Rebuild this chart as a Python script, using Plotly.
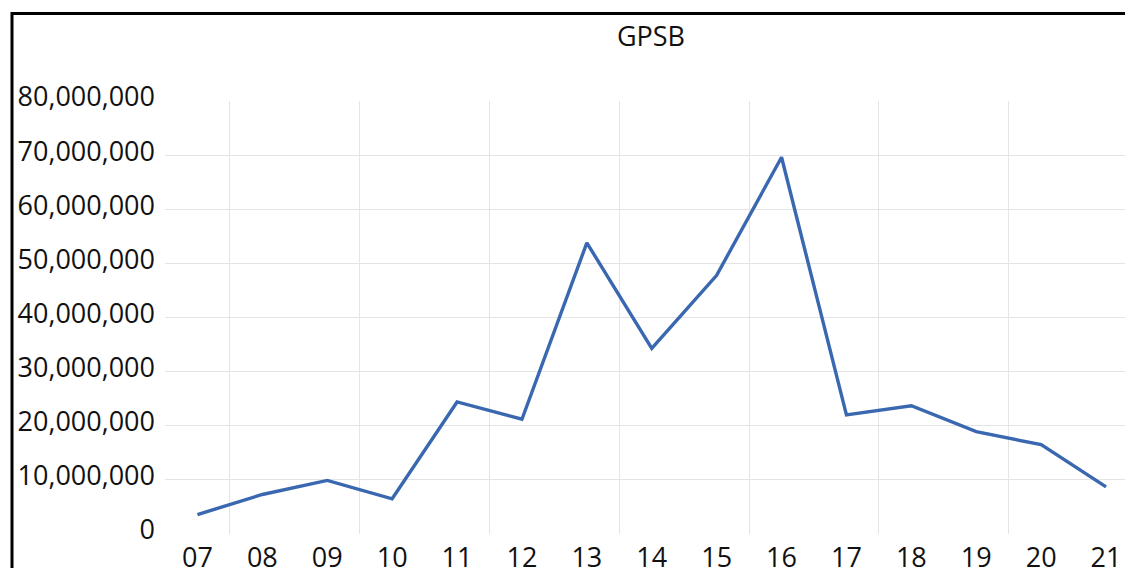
import plotly.graph_objects as go

categories = ["07", "08", "09", "10", "11", "12", "13", "14", "15", "16", "17", "18", "19", "20", "21"]
values = [3600000, 7300000, 9900000, 6500000, 24400000, 21200000, 53800000, 34300000,
          47800000, 69600000, 22000000, 23700000, 18900000, 16500000, 8700000]
y_ticks = [0, 10000000, 20000000, 30000000, 40000000, 50000000, 60000000, 70000000, 80000000]
y_ticktext = ["0", "10,000,000", "20,000,000", "30,000,000", "40,000,000",
              "50,000,000", "60,000,000", "70,000,000", "80,000,000"]
title = "GPSB"

OFF = 8  # page body margin offset
W, H = 1133 - OFF, 568 - OFF
ML, MR, MT, MB = 165 - OFF, 0, 101 - OFF, 568 - 534
plot_w = W - ML - MR
plot_h = H - MT - MB
px_per_cat = 64.9
x_idx = list(range(len(categories)))

FONT = "Open Sans"

fig = go.Figure()
fig.add_trace(go.Scatter(
    x=x_idx, y=values, mode="lines",
    line=dict(color="#3A68B0", width=3.4),
    hoverinfo="skip", showlegend=False,
))

fig.update_layout(
    width=W, height=H,
    margin=dict(l=ML, r=MR, t=MT, b=MB, pad=0, autoexpand=False),
    paper_bgcolor="white", plot_bgcolor="white",
    font=dict(family=FONT, color="#111111"),
    title=dict(text=title, x=(651 - OFF) / W, xref="container", xanchor="center",
               y=1 - (37 - OFF) / H, yref="container", yanchor="middle",
               font=dict(family=FONT, size=27, color="#111111")),
    showlegend=False,
)

fig.update_xaxes(
    range=[-0.5, -0.5 + plot_w / px_per_cat],
    tickmode="array", tickvals=x_idx, ticktext=categories,
    showgrid=False, zeroline=False, showline=False,
    ticks="", ticklabelstandoff=5, automargin=False,
    tickfont=dict(family=FONT, size=27, color="#111111"),
    minor=dict(tickmode="array", tickvals=[i + 0.5 for i in x_idx[::2]],
               showgrid=True, gridcolor="#E4E4E4", gridwidth=1, ticks=""),
    fixedrange=True,
)
fig.update_yaxes(
    range=[0, 80000000],
    tickmode="array", tickvals=y_ticks, ticktext=y_ticktext,
    showgrid=True, gridcolor="#E4E4E4", gridwidth=1,
    zeroline=False, showline=False, ticks="",
    ticklabelstandoff=9, ticklabelshift=-4, automargin=False,
    tickfont=dict(family=FONT, size=27, color="#111111"),
    fixedrange=True,
)

# chart frame (black border of the chart area)
fig.add_shape(type="rect", xref="paper", yref="paper",
              x0=(12 - 165) / plot_w, x1=1.2,
              y0=-0.3, y1=(101 - 13.5) / plot_h + 1,
              line=dict(color="black", width=3), fillcolor="rgba(0,0,0,0)",
              layer="above")

fig.write_html("out.html")
